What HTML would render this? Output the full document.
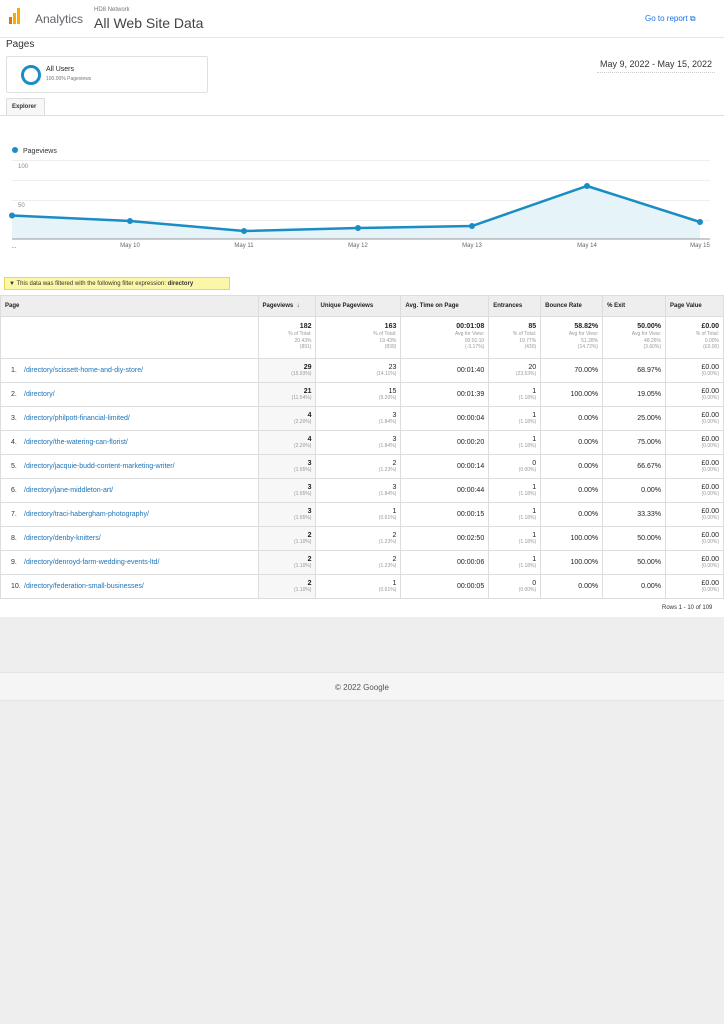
<!DOCTYPE html>
<html><head><meta charset="utf-8"><style>
*{margin:0;padding:0;box-sizing:border-box}
body{width:724px;height:1024px;background:#eeeeee;font-family:"Liberation Sans",sans-serif;position:relative;overflow:hidden;color:#333}
.abs{position:absolute}
.white{position:absolute;left:0;top:0;width:724px;height:617px;background:#fff}
table{position:absolute;left:0;top:295px;width:724px;border-collapse:collapse;font-size:7px}
td,th{border:1px solid #ddd;padding:0 4px}
th{height:21px;background:#eeeeee;font-weight:bold;text-align:left;color:#222;font-size:6px}
.sum td{height:42px;vertical-align:top;text-align:right;padding-top:5px;background:#fff;color:#999;font-size:5px;line-height:6.5px}
.sum td b{color:#222;font-size:7px;font-weight:bold;display:block;line-height:9px}
.r td{height:24px;text-align:right;font-size:7px;color:#222}
.r td small{display:block;color:#999;font-size:5px;line-height:6px}
.r td.p{text-align:left;color:#1a73b8;font-size:7px;padding-left:10px}
.r td.p span{color:#333;display:inline-block;width:13px}
.r td.pv{background:#f7f7f7;font-weight:bold}
.r td.pv small{font-weight:normal}
</style></head><body>
<div class="white"></div>
<div class="abs" style="left:0;top:37px;width:724px;height:1px;background:#e5e5e5"></div>
<div class="abs" style="left:9px;top:17px;width:3px;height:7px;background:#e37400"></div>
<div class="abs" style="left:13px;top:13px;width:3px;height:11px;background:#f9ab00"></div>
<div class="abs" style="left:17px;top:8px;width:3px;height:16px;background:#f9ab00"></div>
<div class="abs" style="left:35px;top:12px;font-size:12px;color:#5f6368">Analytics</div>
<div class="abs" style="left:94px;top:7px;font-size:6px;color:#777">HD8 Network</div>
<div class="abs" style="left:94px;top:15px;font-size:14px;color:#444">All Web Site Data</div>
<div class="abs" style="left:645px;top:14px;font-size:8px;color:#1a73e8">Go to report ⧉</div>
<div class="abs" style="left:6px;top:39px;font-size:10px;color:#333">Pages</div>
<div class="abs" style="left:6px;top:56px;width:202px;height:37px;border:1px solid #e0e0e0;border-radius:2px"></div>
<div class="abs" style="left:21px;top:65px;width:20px;height:20px;border:3px solid #1a8dc4;border-radius:50%"></div>
<div class="abs" style="left:46px;top:66px;font-size:7px;color:#222">All Users</div>
<div class="abs" style="left:46px;top:76px;font-size:5px;color:#777">100.00% Pageviews</div>
<div class="abs" style="left:600px;top:59px;font-size:9px;color:#333">May 9, 2022 - May 15, 2022</div>
<div class="abs" style="left:597px;top:72px;width:118px;border-top:1px dotted #ccc"></div>
<div class="abs" style="left:6px;top:98px;width:39px;height:18px;border:1px solid #ddd;border-bottom:none;background:#f7f7f7;font-size:6px;font-weight:bold;padding:5px 0 0 5px">Explorer</div>
<div class="abs" style="left:0;top:115px;width:724px;height:1px;background:#ddd"></div>
<svg class="abs" style="left:0;top:140px" width="724" height="115">
<circle cx="15" cy="10" r="3" fill="#1a8dc4"/>
<text x="23" y="13" font-size="7" fill="#333" font-family="Liberation Sans">Pageviews</text>
<g stroke="#eee" stroke-width="1"><line x1="12" y1="20.5" x2="710" y2="20.5"/><line x1="12" y1="40.5" x2="710" y2="40.5"/><line x1="12" y1="60.5" x2="710" y2="60.5"/><line x1="12" y1="80.5" x2="710" y2="80.5"/></g>
<text x="18" y="28" font-size="6" fill="#888" font-family="Liberation Sans">100</text>
<text x="18" y="67" font-size="6" fill="#888" font-family="Liberation Sans">50</text>
<polygon points="12,75.5 130,81 244,91 358,88 472,86 587,46 700,82 700,99 12,99" fill="#e6f3f9"/>
<line x1="12" y1="99" x2="710" y2="99" stroke="#999"/>
<polyline points="12,75.5 130,81 244,91 358,88 472,86 587,46 700,82" fill="none" stroke="#1a8dc4" stroke-width="2.5"/>
<g fill="#1a8dc4"><circle cx="12" cy="75.5" r="3"/><circle cx="130" cy="81" r="3"/><circle cx="244" cy="91" r="3"/><circle cx="358" cy="88" r="3"/><circle cx="472" cy="86" r="3"/><circle cx="587" cy="46" r="3"/><circle cx="700" cy="82" r="3"/></g>
<g font-size="6" fill="#666" font-family="Liberation Sans" text-anchor="middle"><text x="14" y="108">...</text><text x="130" y="107">May 10</text><text x="244" y="107">May 11</text><text x="358" y="107">May 12</text><text x="472" y="107">May 13</text><text x="587" y="107">May 14</text><text x="700" y="107">May 15</text></g>
</svg>
<div class="abs" style="left:4px;top:277px;height:13px;width:226px;background:#fbf6a8;border:1px solid #e6d95a;font-size:6px;padding:3px 0 0 4px;color:#333">▼ This data was filtered with the following filter expression: <b>directory</b></div>
<table>
<colgroup><col style="width:258px"><col style="width:58px"><col style="width:85px"><col style="width:88px"><col style="width:52px"><col style="width:62px"><col style="width:63px"><col style="width:58px"></colgroup>
<tr><th>Page</th><th>Pageviews &nbsp;↓</th><th>Unique Pageviews</th><th>Avg. Time on Page</th><th>Entrances</th><th>Bounce Rate</th><th>% Exit</th><th>Page Value</th></tr>
<tr class="sum"><td></td><td><b>182</b>% of Total:<br>20.43%<br>(891)</td><td><b>163</b>% of Total:<br>19.43%<br>(839)</td><td><b>00:01:08</b>Avg for View:<br>00:01:10<br>(-3.17%)</td><td><b>85</b>% of Total:<br>19.77%<br>(430)</td><td><b>58.82%</b>Avg for View:<br>51.28%<br>(14.72%)</td><td><b>50.00%</b>Avg for View:<br>48.26%<br>(3.60%)</td><td><b>£0.00</b>% of Total:<br>0.00%<br>(£0.00)</td></tr>
<tr class="r"><td class="p"><span>1.</span>/directory/scissett-home-and-diy-store/</td><td class="pv">29<small>(15.93%)</small></td><td>23<small>(14.11%)</small></td><td>00:01:40</td><td>20<small>(23.53%)</small></td><td>70.00%</td><td>68.97%</td><td>£0.00<small>(0.00%)</small></td></tr>
<tr class="r"><td class="p"><span>2.</span>/directory/</td><td class="pv">21<small>(11.54%)</small></td><td>15<small>(9.20%)</small></td><td>00:01:39</td><td>1<small>(1.18%)</small></td><td>100.00%</td><td>19.05%</td><td>£0.00<small>(0.00%)</small></td></tr>
<tr class="r"><td class="p"><span>3.</span>/directory/philpott-financial-limited/</td><td class="pv">4<small>(2.20%)</small></td><td>3<small>(1.84%)</small></td><td>00:00:04</td><td>1<small>(1.18%)</small></td><td>0.00%</td><td>25.00%</td><td>£0.00<small>(0.00%)</small></td></tr>
<tr class="r"><td class="p"><span>4.</span>/directory/the-watering-can-florist/</td><td class="pv">4<small>(2.20%)</small></td><td>3<small>(1.84%)</small></td><td>00:00:20</td><td>1<small>(1.18%)</small></td><td>0.00%</td><td>75.00%</td><td>£0.00<small>(0.00%)</small></td></tr>
<tr class="r"><td class="p"><span>5.</span>/directory/jacquie-budd-content-marketing-writer/</td><td class="pv">3<small>(1.65%)</small></td><td>2<small>(1.23%)</small></td><td>00:00:14</td><td>0<small>(0.00%)</small></td><td>0.00%</td><td>66.67%</td><td>£0.00<small>(0.00%)</small></td></tr>
<tr class="r"><td class="p"><span>6.</span>/directory/jane-middleton-art/</td><td class="pv">3<small>(1.65%)</small></td><td>3<small>(1.84%)</small></td><td>00:00:44</td><td>1<small>(1.18%)</small></td><td>0.00%</td><td>0.00%</td><td>£0.00<small>(0.00%)</small></td></tr>
<tr class="r"><td class="p"><span>7.</span>/directory/traci-habergham-photography/</td><td class="pv">3<small>(1.65%)</small></td><td>1<small>(0.61%)</small></td><td>00:00:15</td><td>1<small>(1.18%)</small></td><td>0.00%</td><td>33.33%</td><td>£0.00<small>(0.00%)</small></td></tr>
<tr class="r"><td class="p"><span>8.</span>/directory/denby-knitters/</td><td class="pv">2<small>(1.10%)</small></td><td>2<small>(1.23%)</small></td><td>00:02:50</td><td>1<small>(1.18%)</small></td><td>100.00%</td><td>50.00%</td><td>£0.00<small>(0.00%)</small></td></tr>
<tr class="r"><td class="p"><span>9.</span>/directory/denroyd-farm-wedding-events-ltd/</td><td class="pv">2<small>(1.10%)</small></td><td>2<small>(1.23%)</small></td><td>00:00:06</td><td>1<small>(1.18%)</small></td><td>100.00%</td><td>50.00%</td><td>£0.00<small>(0.00%)</small></td></tr>
<tr class="r"><td class="p"><span>10.</span>/directory/federation-small-businesses/</td><td class="pv">2<small>(1.10%)</small></td><td>1<small>(0.61%)</small></td><td>00:00:05</td><td>0<small>(0.00%)</small></td><td>0.00%</td><td>0.00%</td><td>£0.00<small>(0.00%)</small></td></tr>
</table>
<div class="abs" style="left:662px;top:605px;font-size:6px;color:#333">Rows 1 - 10 of 109</div>
<div class="abs" style="left:0;top:672px;width:724px;height:29px;background:#f5f5f5;border-top:1px solid #e5e5e5;border-bottom:1px solid #e5e5e5;text-align:center;font-size:8px;color:#555;padding-top:10px">© 2022 Google</div>
</body></html>
